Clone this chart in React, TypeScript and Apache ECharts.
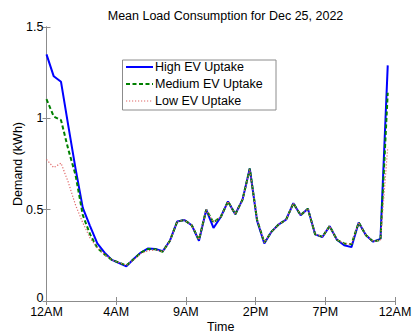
import React, { useEffect, useRef } from "react";
import * as echarts from "echarts";

// Half-hourly mean demand (kWh), starting at midnight
const highEV = [
  1.35, 1.23, 1.2, 0.96, 0.725, 0.51, 0.41, 0.315, 0.265, 0.225, 0.208, 0.19,
  0.23, 0.265, 0.288, 0.285, 0.272, 0.33, 0.435, 0.443, 0.415, 0.33, 0.5, 0.4,
  0.46, 0.545, 0.475, 0.555, 0.725, 0.44, 0.315, 0.38, 0.42, 0.445, 0.535, 0.47,
  0.505, 0.365, 0.35, 0.41, 0.335, 0.305, 0.295, 0.43, 0.36, 0.325, 0.34, 1.29,
];
const mediumEV = [
  1.105, 1.01, 0.99, 0.83, 0.69, 0.47, 0.365, 0.29, 0.255, 0.225, 0.21, 0.195,
  0.228, 0.265, 0.285, 0.283, 0.27, 0.33, 0.435, 0.443, 0.415, 0.335, 0.5, 0.43,
  0.46, 0.545, 0.475, 0.555, 0.725, 0.445, 0.32, 0.38, 0.42, 0.445, 0.535, 0.47,
  0.505, 0.365, 0.352, 0.41, 0.335, 0.315, 0.31, 0.43, 0.36, 0.325, 0.335, 1.14,
];
const lowEV = [
  0.775, 0.73, 0.755, 0.65, 0.525, 0.428, 0.345, 0.29, 0.255, 0.225, 0.21, 0.195,
  0.225, 0.26, 0.275, 0.28, 0.27, 0.33, 0.435, 0.443, 0.415, 0.335, 0.5, 0.43,
  0.46, 0.545, 0.475, 0.555, 0.72, 0.445, 0.32, 0.38, 0.42, 0.445, 0.535, 0.47,
  0.505, 0.365, 0.352, 0.41, 0.335, 0.315, 0.31, 0.43, 0.36, 0.325, 0.335, 0.84,
];
const timeTickLabels = ["12AM", "4AM", "9AM", "2PM", "7PM", "12AM"];
const seriesNames = ["High EV Uptake", "Medium EV Uptake", "Low EV Uptake"];

const FONT = "'Liberation Sans', Arial, Helvetica, sans-serif";
const AXIS_GREY = "#8c8c8c";
const X_STEP = 9.6; // 48 half-hour slots split into 5 tick intervals

const BLUE = "#0000ff";
const GREEN = "#008000";
const RED = "#e06666";
const GREEN_DASH = [4, 2.5];
const RED_DOT = [1.2, 1.8];

const toPairs = (vals: number[]) => vals.map((v, i) => [i, v]);

// Boxed legend in the upper part of the axes
function legendGraphic() {
  const left = 122.5;
  const top = 60;
  const rowY = [67, 84, 101];
  const styles = [
    { stroke: BLUE, lineWidth: 2 },
    { stroke: GREEN, lineWidth: 2, lineDash: GREEN_DASH },
    { stroke: RED, lineWidth: 1.2, lineDash: RED_DOT },
  ];
  const children: any[] = [
    {
      type: "rect",
      shape: { x: left, y: top, width: 153.5, height: 50 },
      style: { fill: "#fff", stroke: AXIS_GREY, lineWidth: 1 },
    },
  ];
  seriesNames.forEach((name, i) => {
    children.push({
      type: "line",
      shape: { x1: 126, y1: rowY[i], x2: 153, y2: rowY[i] },
      style: styles[i],
    });
    children.push({
      type: "text",
      x: 155,
      y: rowY[i],
      style: {
        text: name,
        fill: "#000",
        font: `12.5px ${FONT}`,
        verticalAlign: "middle",
        align: "left",
      },
    });
  });
  return { type: "group", z: 100, children };
}

export default function App() {
  const ref = useRef<HTMLDivElement>(null);

  useEffect(() => {
    if (!ref.current) return;
    const chart = echarts.init(ref.current, undefined, { renderer: "svg" });

    const tickStyle = { show: true, inside: true, length: 4, lineStyle: { color: AXIS_GREY } };
    const lineStyleAxis = { show: true, lineStyle: { color: AXIS_GREY, width: 1 } };
    const labelBase = { color: "#000", fontFamily: FONT, fontSize: 12.5 };

    chart.setOption({
      animation: false,
      backgroundColor: "#fff",
      title: {
        text: "Mean Load Consumption for Dec 25, 2022",
        left: 220.5,
        textAlign: "center",
        top: 4,
        textStyle: { ...labelBase, fontWeight: "normal" },
      },
      grid: {
        left: 46.5,
        right: 17,
        top: 27,
        bottom: 33,
        containLabel: false,
        outerBoundsMode: "none",
      },
      graphic: [legendGraphic()],
      xAxis: [
        {
          type: "value",
          min: 0,
          max: 48,
          interval: X_STEP,
          name: "Time",
          nameLocation: "middle",
          nameGap: 19,
          nameMoveOverlap: false,
          nameTextStyle: labelBase,
          axisLine: lineStyleAxis,
          axisTick: tickStyle,
          axisLabel: {
            ...labelBase,
            margin: 4,
            formatter: (v: number) => timeTickLabels[Math.round(v / X_STEP)] ?? "",
          },
          splitLine: { show: false },
        },
        {
          type: "value",
          position: "top",
          min: 0,
          max: 48,
          interval: X_STEP,
          axisLine: lineStyleAxis,
          axisTick: tickStyle,
          axisLabel: { show: false },
          splitLine: { show: false },
        },
      ],
      yAxis: [
        {
          type: "value",
          min: 0,
          max: 1.5,
          interval: 0.5,
          name: "Demand (kWh)",
          nameLocation: "middle",
          nameGap: 22,
          nameMoveOverlap: false,
          nameTextStyle: labelBase,
          axisLine: lineStyleAxis,
          axisTick: tickStyle,
          axisLabel: {
            ...labelBase,
            margin: 3,
            formatter: (v: number) => (v === 0 ? "{z|0}" : String(v)),
            rich: { z: { ...labelBase, padding: [0, 0, 7, 0] } },
          },
          splitLine: { show: false },
        },
        {
          type: "value",
          position: "right",
          min: 0,
          max: 1.5,
          interval: 0.5,
          axisLine: lineStyleAxis,
          axisTick: tickStyle,
          axisLabel: { show: false },
          splitLine: { show: false },
        },
      ],
      series: [
        {
          name: seriesNames[0],
          type: "line",
          data: toPairs(highEV),
          showSymbol: false,
          symbol: "none",
          color: BLUE,
          lineStyle: { color: BLUE, width: 2 },
          z: 3,
        },
        {
          name: seriesNames[1],
          type: "line",
          data: toPairs(mediumEV),
          showSymbol: false,
          symbol: "none",
          color: GREEN,
          lineStyle: { color: GREEN, width: 2, type: GREEN_DASH },
          z: 4,
        },
        {
          name: seriesNames[2],
          type: "line",
          data: toPairs(lowEV),
          showSymbol: false,
          symbol: "none",
          color: RED,
          lineStyle: { color: RED, width: 1.2, type: RED_DOT },
          z: 5,
        },
      ],
    });

    return () => chart.dispose();
  }, []);

  return (
    <div
      ref={ref}
      style={{ position: "fixed", left: 0, top: 0, width: 412, height: 334, background: "#fff" }}
    />
  );
}
